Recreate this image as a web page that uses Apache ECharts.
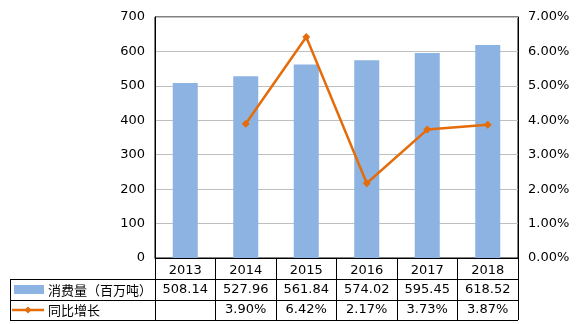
<!DOCTYPE html>
<html><head><meta charset="utf-8">
<script src="https://cdn.jsdelivr.net/npm/echarts@6/dist/echarts.min.js"></script>
<style>html,body{margin:0;padding:0;background:#fff}#c{width:577px;height:324px}</style>
</head><body><div id="c"></div>
<script>
var years = ['2013','2014','2015','2016','2017','2018'];
var consumption = [508.14, 527.96, 561.84, 574.02, 595.45, 618.52];
var growth = [null, 3.90, 6.42, 2.17, 3.73, 3.87];
var seriesNames = ['消费量（百万吨）', '同比增长'];
var leftTicks = [0, 700, 100];
var rightTicks = [0, 7, 1];

var BAR = '#8DB3E2', LINE = '#E46C0A';
var FONT = 'DejaVu Sans';
var CJK = 'Noto Sans CJK SC';
var chart = echarts.init(document.getElementById('c'), null, {renderer:'canvas'});
var G = {left:155, right:59, top:17, bottom:66};
chart.setOption({
  animation:false,
  grid:{left:G.left, right:G.right, top:G.top, bottom:G.bottom, show:true, borderColor:'#000', borderWidth:1},
  xAxis:{type:'category', data:years, boundaryGap:true,
    axisLine:{lineStyle:{color:'#000', width:1}},
    axisTick:{show:true, length:62, lineStyle:{color:'#000'}},
    axisLabel:{color:'#000', fontFamily:FONT, fontSize:13, margin:6}},
  yAxis:[
    {type:'value', min:leftTicks[0], max:leftTicks[1], interval:leftTicks[2],
     axisLine:{show:true, lineStyle:{color:'#000'}}, axisTick:{show:false},
     axisLabel:{color:'#000', fontFamily:FONT, fontSize:13, margin:10},
     splitLine:{lineStyle:{color:'#BFBFBF'}}},
    {type:'value', min:rightTicks[0], max:rightTicks[1], interval:rightTicks[2],
     axisLine:{show:true, lineStyle:{color:'#000'}}, axisTick:{show:false},
     axisLabel:{color:'#000', fontFamily:FONT, fontSize:13, margin:10, formatter:function(v){return v.toFixed(2)+'%';}},
     splitLine:{show:false}}
  ],
  series:[
    {name:seriesNames[0], type:'bar', data:consumption, barWidth:25, itemStyle:{color:BAR}},
    {name:seriesNames[1], type:'line', yAxisIndex:1, data:growth, connectNulls:false,
     lineStyle:{color:LINE, width:2.5}, itemStyle:{color:LINE},
     symbol:'diamond', symbolSize:8, showSymbol:true}
  ]
});

// data table below the plot
var rowTop = 279, rowMid = 300, rowBot = 320, tableLeft = 10;
var plotRight = 577 - G.right;
var els = [];
[rowTop, rowMid, rowBot].forEach(function(y){
  els.push({type:'line', shape:{x1:tableLeft, y1:y+0.5, x2:plotRight, y2:y+0.5}, style:{stroke:'#000', lineWidth:1}});
});
els.push({type:'line', shape:{x1:tableLeft+0.5, y1:rowTop, x2:tableLeft+0.5, y2:rowBot+1}, style:{stroke:'#000', lineWidth:1}});
// legend keys
els.push({type:'rect', shape:{x:14, y:285, width:30, height:9}, style:{fill:BAR}});
els.push({type:'line', shape:{x1:12, y1:310, x2:44, y2:310}, style:{stroke:LINE, lineWidth:2.5}});
els.push({type:'polygon', shape:{points:[[28,306.5],[31.5,310],[28,313.5],[24.5,310]]}, style:{fill:LINE}});
els.push({type:'text', x:48, y:290, style:{text:seriesNames[0], font:'13px "'+CJK+'"', fill:'#000', verticalAlign:'middle'}});
els.push({type:'text', x:48, y:310, style:{text:seriesNames[1], font:'13px "'+CJK+'"', fill:'#000', verticalAlign:'middle'}});
years.forEach(function(yr, i){
  var cx = chart.convertToPixel({xAxisIndex:0}, yr);
  els.push({type:'text', x:cx, y:290, style:{text:consumption[i].toFixed(2), font:'13px "'+FONT+'"', fill:'#000', align:'center', verticalAlign:'middle'}});
  if (growth[i] != null)
    els.push({type:'text', x:cx, y:310, style:{text:growth[i].toFixed(2)+'%', font:'13px "'+FONT+'"', fill:'#000', align:'center', verticalAlign:'middle'}});
});
chart.setOption({graphic:els});
</script></body></html>
